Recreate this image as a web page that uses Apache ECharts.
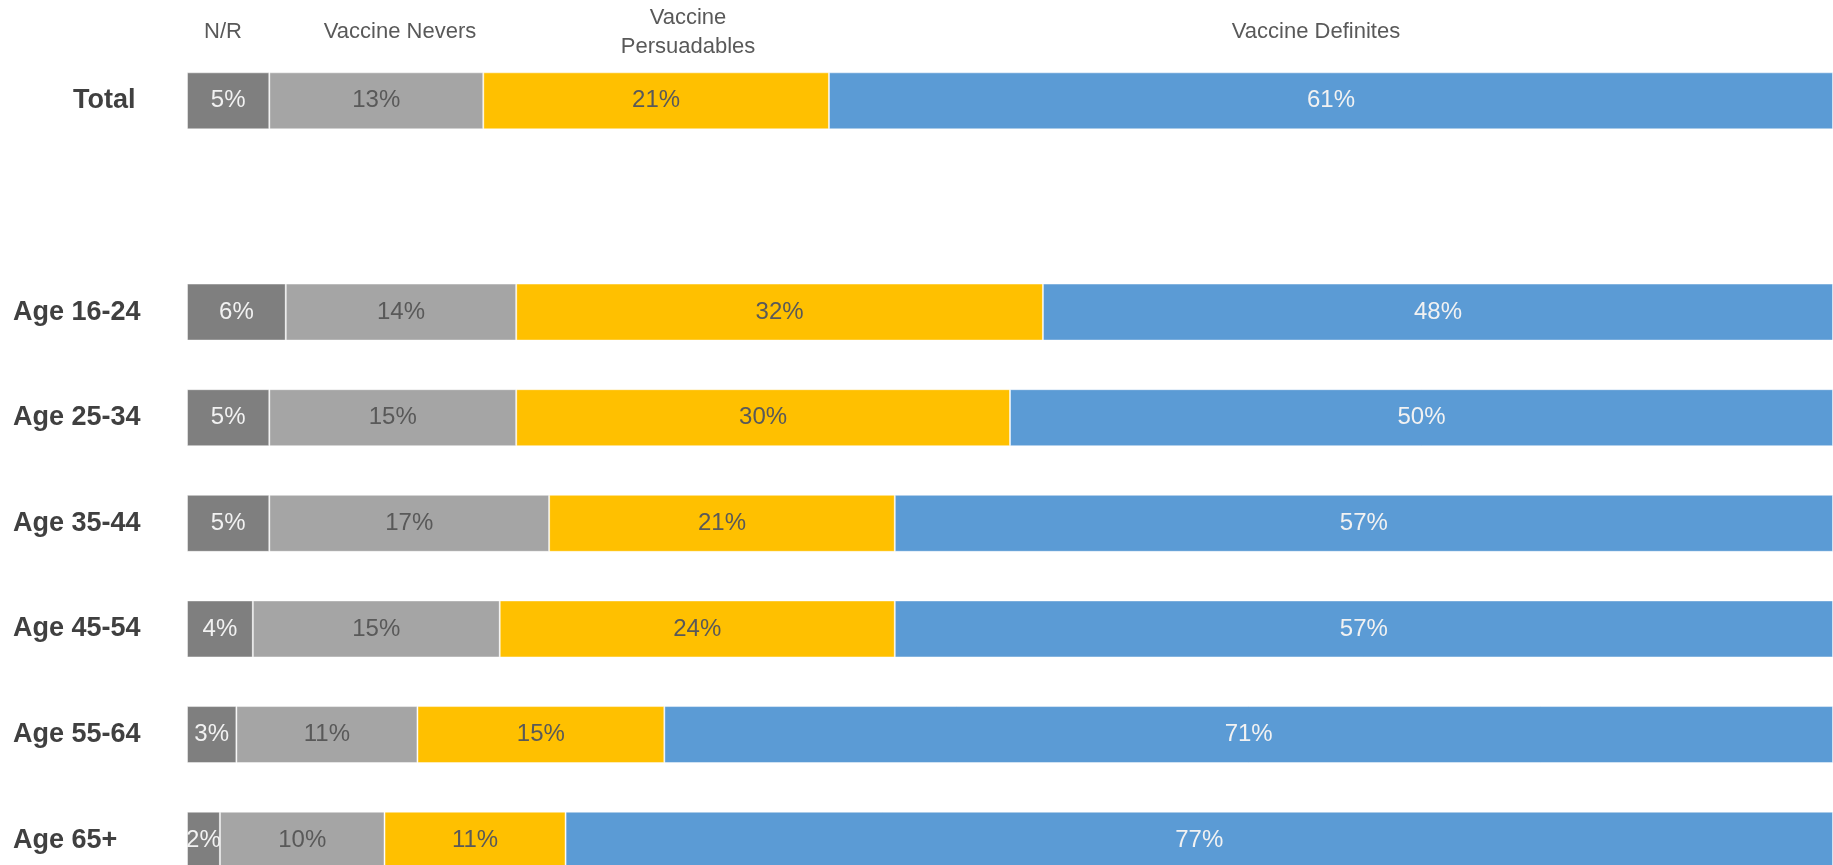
<!DOCTYPE html>
<html>
<head>
<meta charset="utf-8">
<script src="https://cdn.jsdelivr.net/npm/echarts@6/dist/echarts.min.js"></script>
<style>
html,body{margin:0;padding:0;background:#fff;overflow:hidden;width:1833px;height:865px;}
#chart{width:1833px;height:893px;}
</style>
</head>
<body>
<div id="chart"></div>
<script>
var categories = ['Total', '', 'Age 16-24', 'Age 25-34', 'Age 35-44', 'Age 45-54', 'Age 55-64', 'Age 65+'];
var seriesNames = ['N/R', 'Vaccine Nevers', 'Vaccine Persuadables', 'Vaccine Definites'];
var nr           = [5, '-', 6, 5, 5, 4, 3, 2];
var nevers       = [13, '-', 14, 15, 17, 15, 11, 10];
var persuadables = [21, '-', 32, 30, 21, 24, 15, 11];
var definites    = [61, '-', 48, 50, 57, 57, 71, 77];
var headerLabels = ['N/R', 'Vaccine Nevers', 'Vaccine\nPersuadables', 'Vaccine Definites'];

var colors = ['#7f7f7f', '#a5a5a5', '#ffc000', '#5b9bd5'];
var labelColors = ['#f2f2f2', '#595959', '#595959', '#f2f2f2'];
var values = [nr, nevers, persuadables, definites];

var chart = echarts.init(document.getElementById('chart'));
var FONT = '"Liberation Sans", Arial, sans-serif';

var series = values.map(function (v, i) {
  return {
    name: seriesNames[i],
    type: 'bar',
    stack: 'all',
    barWidth: 57,
    data: v,
    itemStyle: { color: colors[i], borderColor: 'rgba(255,255,255,0.45)', borderWidth: 1 },
    label: {
      show: true,
      position: 'inside',
      formatter: '{c}%',
      color: labelColors[i],
      fontFamily: FONT,
      fontSize: 24
    },
    emphasis: { disabled: true }
  };
});

var headerX = [223, 400, 688, 1316];
var headerY = [32, 32, 32, 32];

chart.setOption({
  animation: false,
  grid: { left: 187, right: 0, top: 48, bottom: 0, containLabel: false },
  xAxis: { type: 'value', min: 0, max: 100, show: false },
  yAxis: {
    type: 'category',
    data: categories,
    inverse: true,
    axisLine: { show: false },
    axisTick: { show: false },
    axisLabel: {
      align: 'left',
      margin: 174,
      color: '#404040',
      fontFamily: FONT,
      fontWeight: 'bold',
      fontSize: 27,
      formatter: function (v) { return v === 'Total' ? '{t|' + v + '}' : v; },
      rich: { t: { padding: [0, 0, 0, 60], color: '#404040', fontFamily: FONT, fontWeight: 'bold', fontSize: 27 } }
    }
  },
  series: series,
  graphic: headerLabels.map(function (t, i) {
    return {
      type: 'text',
      x: headerX[i],
      y: headerY[i],
      style: {
        text: t,
        fill: '#595959',
        font: '22px ' + FONT,
        align: 'center',
        verticalAlign: 'middle',
        lineHeight: 29
      }
    };
  })
});
</script>
</body>
</html>
